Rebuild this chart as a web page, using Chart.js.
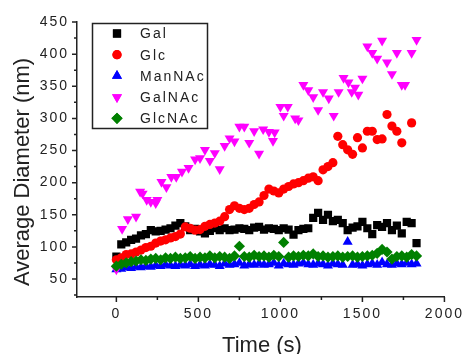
<!DOCTYPE html>
<html lang="en">
<head>
<meta charset="UTF-8">
<title>Average Diameter vs Time</title>
<style>
  body { margin: 0; background: #fff; }
  #wrap { width: 469px; height: 354px; }
</style>
</head>
<body>
<div id="wrap"><canvas id="sizeChart" width="469" height="354"></canvas></div>
<script src="https://cdn.jsdelivr.net/npm/chart.js"></script>
<script>
// shared time base for the dense series (s)
const timeS = [0, 30, 60, 90, 120, 150, 180, 210, 240, 270,
    300, 330, 360, 390, 420, 450, 480, 510, 540, 570,
    600, 630, 660, 690, 720, 750, 780, 810, 840, 870,
    900, 930, 960, 990, 1020, 1050, 1080, 1110, 1140, 1170,
    1200, 1230, 1260, 1290, 1320, 1350, 1380, 1410, 1440, 1470,
    1500, 1530, 1560, 1590, 1620, 1650, 1680, 1710, 1740, 1770,
    1800, 1830];

const galNm = [85, 104, 107, 111, 113, 118, 120, 126, 124, 125,
    127, 129, 133, 137, 132, 126, 128, 124, 121, 125,
    129, 126, 129, 126, 127, 129, 128, 126, 130, 131,
    127, 129, 128, 126, 129, 127, 119, 126, 128, 129,
    145, 153, 142, 150, 140, 142, 137, 126, 130, 132,
    139, 129, 120, 134, 131, 137, 126, 133, 121, 139,
    137, 106];

const glcNm = [80, 83, 88, 89, 92, 95, 99, 101, 106, 109,
    111, 114, 116, 120, 131, 129, 126, 127, 132, 135,
    137, 140, 147, 158, 164, 160, 158, 160, 166, 170,
    180, 190, 187, 184, 190, 194, 198, 200, 203, 207,
    209, 203, 220, 225, 231, 272, 259, 251, 244, 270,
    254, 280, 280, 267, 268, 306, 288, 280, 262, null,
    293, null];

const mannacNm = [65, 66, 68, 67, 69, 68, 70, 69, 71, 70,
    72, 71, 70, 72, 71, 73, 70, 72, 71, 73,
    72, 70, 74, 72, 73, 75, 71, 73, 72, 74,
    72, 73, 75, 71, 74, 73, 72, 74, 75, 73,
    72, 74, 73, 71, 74, 73, 72, 108, 72, 73,
    71, 73, 74, 72, 76, 73, 72, 74, 73, 75,
    73, 74];

const glcnacNm = [70, 73, 75, 77, 78, 80, 79, 81, 82, 80,
    83, 82, 84, 82, 83, 85, 82, 84, 83, 86,
    83, 85, 84, 82, 86, 101, 85, 84, 87, 85,
    86, 84, 87, 85, 107, 84, 86, 85, 87, 86,
    89, 85, 86, 84, 85, 86, 84, 85, 86, 84,
    85, 86, 87, 90, 96, 92, 81, 85, 86, 84,
    88, 86];

// GalNAc was sampled on its own, sparser times
const galnacTime = [0, 35, 70, 120, 145, 160, 185, 210, 240, 250,
    275, 305, 335, 365, 400, 440, 480, 510, 540, 570,
    600, 630, 660, 690, 720, 750, 780, 810, 840, 870,
    895, 930, 955, 965, 1000, 1020, 1045, 1090, 1110, 1140,
    1170, 1200, 1230, 1260, 1295, 1325, 1355, 1385, 1415, 1435,
    1455, 1475, 1500, 1530, 1560, 1590, 1620, 1650, 1680, 1710,
    1740, 1760, 1800, 1830];
const galnacNm = [65, 128, 143, 147, 186, 183, 173, 170, 168, 173,
    201, 193, 209, 209, 217, 223, 236, 238, 251, 234,
    246, 221, 257, 269, 264, 287, 287, 262, 280, 245,
    283, 279, 265, 278, 318, 304, 318, 300, 297, 352,
    344, 333, 313, 341, 331, 304, 341, 363, 356, 341,
    348, 337, 362, 412, 402, 393, 421, 387, 369, 402,
    352, 352, 402, 422];

const seriesNames = ['Gal', 'Glc', 'ManNAc', 'GalNAc', 'GlcNAc'];
const xTicks = [0, 500, 1000, 1500, 2000];
const xMinorTicks = [250, 750, 1250, 1750];
const yTicks = [50, 100, 150, 200, 250, 300, 350, 400, 450];
const yMinorTicks = [25, 75, 125, 175, 225, 275, 325, 375, 425];

const FONT = '"Liberation Sans", Arial, sans-serif';
const INK = '#222';

function pairs(xs, ys) {
    return xs.map((x, i) => ({ x: x, y: ys[i] }));
}

const styles = [
    { color: '#000000', pointStyle: 'rect', radius: 5.8, rotation: 0 },
    { color: '#ff0000', pointStyle: 'circle', radius: 4.6, rotation: 0 },
    { color: '#0000ff', pointStyle: 'triangle', radius: 5.8, rotation: 0 },
    { color: '#ff00ff', pointStyle: 'triangle', radius: 5.8, rotation: 180 },
    { color: '#008000', pointStyle: 'rectRot', radius: 5.6, rotation: 0 }
];

const seriesData = [
    pairs(timeS, galNm),
    pairs(timeS, glcNm),
    pairs(timeS, mannacNm),
    pairs(galnacTime, galnacNm),
    pairs(timeS, glcnacNm)
];

// axis ticks, boxed legend and axis titles drawn the Origin way
const originLook = {
    id: 'originLook',
    beforeDraw(chart) {
        chart.ctx.letterSpacing = '2px';
    },
    afterDraw(chart) {
        const ctx = chart.ctx;
        const xs = chart.scales.x, ys = chart.scales.y;
        const area = chart.chartArea;
        ctx.save();
        ctx.strokeStyle = INK;
        ctx.lineWidth = 1.5;
        ctx.beginPath();
        xTicks.forEach(v => { const p = xs.getPixelForValue(v); ctx.moveTo(p, area.bottom); ctx.lineTo(p, area.bottom + 5); });
        xMinorTicks.forEach(v => { const p = xs.getPixelForValue(v); ctx.moveTo(p, area.bottom); ctx.lineTo(p, area.bottom + 3); });
        yTicks.forEach(v => { const p = ys.getPixelForValue(v); ctx.moveTo(area.left, p); ctx.lineTo(area.left - 5, p); });
        yMinorTicks.forEach(v => { const p = ys.getPixelForValue(v); ctx.moveTo(area.left, p); ctx.lineTo(area.left - 3, p); });
        ctx.stroke();

        // legend box
        ctx.lineWidth = 1.5;
        ctx.strokeStyle = INK;
        ctx.strokeRect(92.5, 23.5, 115, 105);
        ctx.font = '14px ' + FONT;
        ctx.letterSpacing = '2px';
        ctx.textBaseline = 'middle';
        ctx.textAlign = 'left';
        seriesNames.forEach((name, i) => {
            const y = 33.5 + i * 21.2;
            const st = styles[i];
            ctx.fillStyle = st.color;
            ctx.strokeStyle = st.color;
            Chart.helpers.drawPoint(ctx, { pointStyle: st.pointStyle, radius: st.radius, rotation: st.rotation, borderWidth: 0 }, 117, y);
            ctx.fill();
            ctx.fillStyle = INK;
            ctx.fillText(name, 140, y + 1);
        });

        // axis titles
        ctx.letterSpacing = '0px';
        ctx.fillStyle = INK;
        ctx.font = '22px ' + FONT;
        ctx.textAlign = 'center';
        ctx.textBaseline = 'alphabetic';
        ctx.fillText('Time (s)', 262, 352);
        ctx.translate(29, 172);
        ctx.rotate(-Math.PI / 2);
        ctx.fillText('Average Diameter (nm)', 0, 0);
        ctx.restore();
    }
};

new Chart(document.getElementById('sizeChart'), {
    type: 'scatter',
    data: {
        datasets: seriesNames.map((name, i) => ({
            label: name,
            data: seriesData[i],
            showLine: false,
            order: 5 - i,
            pointStyle: styles[i].pointStyle,
            rotation: styles[i].rotation,
            pointRadius: styles[i].radius,
            pointBorderWidth: 0,
            backgroundColor: styles[i].color,
            borderColor: styles[i].color
        }))
    },
    options: {
        responsive: false,
        devicePixelRatio: 1,
        animation: false,
        layout: { padding: { left: 0, top: 22, right: 21, bottom: 0 } },
        plugins: {
            legend: { display: false },
            tooltip: { enabled: false }
        },
        scales: {
            x: {
                type: 'linear',
                position: 'bottom',
                min: -240,
                max: 2000,
                afterFit: s => { s.height = 57; },
                afterBuildTicks: s => { s.ticks = xTicks.map(v => ({ value: v })); },
                grid: { display: true, drawOnChartArea: false, drawTicks: false },
                border: { display: true, color: INK, width: 1.5 },
                ticks: { color: INK, padding: 9, maxRotation: 0, font: { family: FONT, size: 14 },
                    callback: v => String(v) }
            },
            y: {
                type: 'linear',
                min: 22,
                max: 450,
                afterFit: s => { s.width = 77; },
                afterBuildTicks: s => { s.ticks = yTicks.map(v => ({ value: v })); },
                grid: { display: true, drawOnChartArea: false, drawTicks: false },
                border: { display: true, color: INK, width: 1.5 },
                ticks: { color: INK, padding: 8, font: { family: FONT, size: 14 },
                    callback: v => String(v) }
            }
        }
    },
    plugins: [originLook]
});
</script>
</body>
</html>
